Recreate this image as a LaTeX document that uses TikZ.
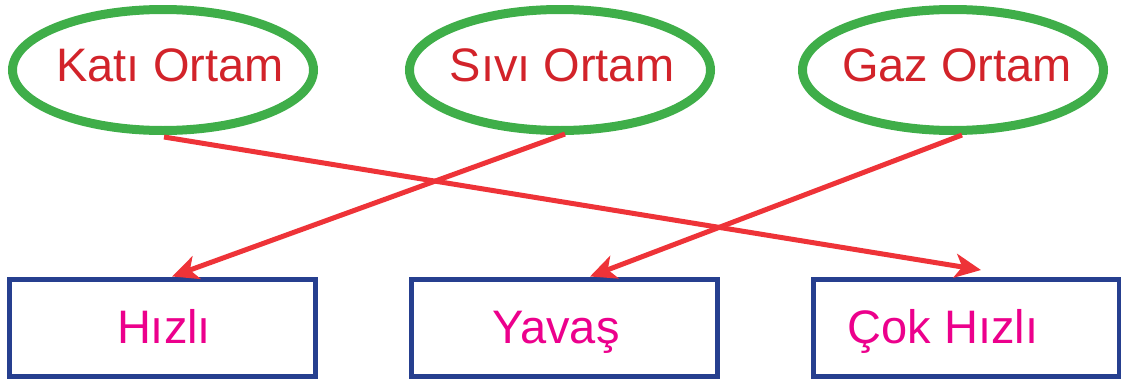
\documentclass[tikz,border=0pt]{standalone}
\usepackage{fontspec}
\setmainfont{Liberation Sans}
\usetikzlibrary{shapes.geometric,arrows.meta}
\definecolor{ogreen}{HTML}{3FAE49}
\definecolor{otext}{HTML}{D2232A}
\definecolor{arred}{HTML}{EE3338}
\definecolor{bblue}{HTML}{263F8F}
\definecolor{mag}{HTML}{EC008C}
\tikzset{
  medium/.style={ellipse, draw=ogreen, line width=9pt, minimum width=301pt, minimum height=121pt, inner sep=0pt},
  mtext/.style={text=otext, inner sep=0pt, text height=33pt, text depth=0pt, font=\fontsize{47}{47}\selectfont},
  speedbox/.style={rectangle, draw=bblue, line width=5pt, minimum width=306pt, minimum height=97pt, inner sep=0pt},
  stext/.style={text=mag, inner sep=0pt, text height=34pt, text depth=0pt, font=\fontsize{47}{47}\selectfont},
  link/.style={draw=arred, line width=5pt, -{Stealth[length=26pt,width=24pt,inset=7pt]}}
}
\begin{document}
\begin{tikzpicture}[x=1pt,y=-1pt]
\useasboundingbox (0,0) rectangle (1121,380);
\node[medium] (kati) at (163,70) {};
\node[medium] (sivi) at (560,70) {};
\node[medium] (gaz) at (953,70) {};
\node[mtext] (katit) at (170,65) {Katı Ortam};
\node[mtext] (sivit) at (562,65) {Sıvı Ortam};
\node[mtext] (gazt) at (957,65) {Gaz Ortam};
\node[speedbox] (hizli) at (162,327.5) {};
\node[speedbox] (yavas) at (564,327.5) {};
\node[speedbox] (cok) at (966,327.5) {};
\node[stext] (hizlit) at (164,326) {Hızlı};
\node[stext] (yavast) at (556,326) {Yavaş};
\node[stext] (cokt) at (943,326) {Çok Hızlı};
\draw[link] ([xshift=1pt,yshift=-2pt]kati.south) -- ([xshift=15pt,yshift=6.5pt]cok.north);
\draw[link] ([xshift=5pt,yshift=1pt]sivi.south) -- ([xshift=10pt,yshift=0pt]hizli.north);
\draw[link] ([xshift=9pt,yshift=0pt]gaz.south) -- ([xshift=26pt,yshift=0pt]yavas.north);
\end{tikzpicture}
\end{document}
